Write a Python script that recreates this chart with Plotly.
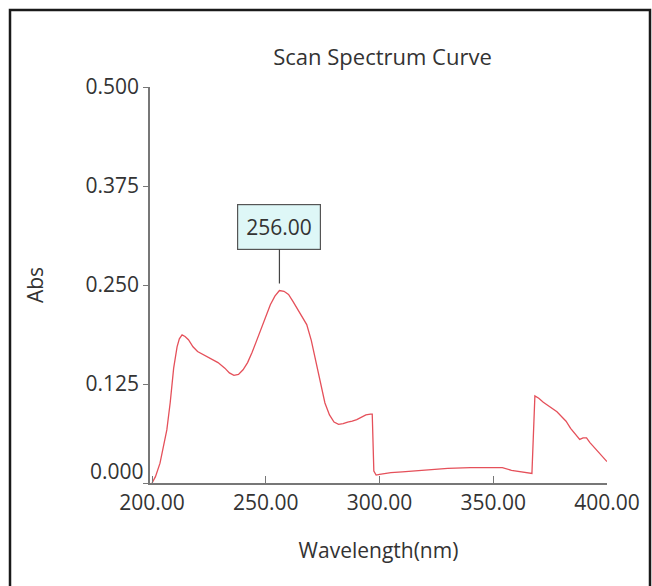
import plotly.graph_objects as go

# Data
wavelength = [200, 201.5, 203.5, 205, 206.5, 208, 209.5, 211, 212, 213.2, 214.5, 216, 218, 220,
              223, 226, 229, 232, 234, 236, 238, 240, 242, 244, 246, 248, 250, 252, 254, 256,
              258, 260, 262, 264, 266, 268, 270, 272, 274, 276, 278, 280, 282, 284, 286, 288,
              290, 292, 294, 296, 296.8, 297.5, 298.5, 300, 305, 310, 320, 330, 340, 350, 354,
              358, 362, 366, 367, 368.3, 370, 372, 374, 376, 378, 380, 382, 384, 386, 388,
              389.5, 391, 392.5, 394, 396, 398, 400]
absorbance = [0.000, 0.008, 0.025, 0.045, 0.067, 0.102, 0.145, 0.172, 0.182, 0.187, 0.185, 0.181,
              0.172, 0.166, 0.161, 0.157, 0.152, 0.145, 0.139, 0.136, 0.137, 0.143, 0.152, 0.165,
              0.180, 0.196, 0.210, 0.225, 0.236, 0.243, 0.242, 0.238, 0.229, 0.219, 0.210, 0.200,
              0.180, 0.153, 0.128, 0.101, 0.086, 0.077, 0.074, 0.075, 0.077, 0.078, 0.080, 0.083,
              0.086, 0.087, 0.087, 0.015, 0.010, 0.011, 0.013, 0.014, 0.0165, 0.0185, 0.0195,
              0.020, 0.0195, 0.016, 0.014, 0.012, 0.012, 0.110, 0.107, 0.102, 0.098, 0.095,
              0.090, 0.084, 0.078, 0.069, 0.062, 0.055, 0.057, 0.057, 0.051, 0.046, 0.040,
              0.034, 0.027]

x_ticks = [200, 250, 300, 350, 400]
x_tick_text = ["200.00", "250.00", "300.00", "350.00", "400.00"]
y_ticks = [0, 0.125, 0.25, 0.375, 0.5]
y_tick_text = ["0.000", "0.125", "0.250", "0.375", "0.500"]

peak_wl = 256
peak_abs = 0.243
peak_label = "256.00"

FONT = "Open Sans"
FS = 21
TXT = "#333"
W, H = 652, 586
L, R, T, B = 150, 45, 87, 103

fig = go.Figure()
fig.add_trace(go.Scatter(
    x=wavelength, y=absorbance, mode="lines",
    line=dict(color="#e5505a", width=1.3),
    showlegend=False, hoverinfo="x+y",
))

fig.add_annotation(
    x=peak_wl, y=peak_abs, xref="x", yref="y",
    text=peak_label, showarrow=True, arrowhead=0, arrowwidth=1.2,
    arrowcolor="#444", ax=0, ay=-64, standoff=7,
    bgcolor="#def7f7", bordercolor="#555", borderwidth=1.2, borderpad=8,
    font=dict(family=FONT, size=FS, color=TXT),
)

# The lowest y tick label sits slightly above the axis corner in the reference
fig.add_annotation(
    x=0, xref="paper", y=y_ticks[0], yref="y", yshift=12,
    text=y_tick_text[0], showarrow=False, xanchor="right", yanchor="middle",
    xshift=-4, font=dict(family=FONT, size=FS, color=TXT),
)
y_tick_labels_shown = [""] + y_tick_text[1:]

pw = W - L - R
ph = H - T - B
x0 = (10 - L) / pw
x1 = (650 - L) / pw
y1 = (H - B - 10) / ph
y0 = (H - B - 595) / ph
fig.add_shape(type="rect", xref="paper", yref="paper", x0=x0, x1=x1, y0=y0, y1=y1,
              line=dict(color="#1a1a1a", width=2.5), layer="below")

fig.update_layout(
    width=W, height=H,
    margin=dict(l=L, r=R, t=T, b=B),
    paper_bgcolor="white", plot_bgcolor="white",
    font=dict(family=FONT, size=FS, color=TXT),
    title=dict(text="Scan Spectrum Curve", x=(L + pw / 2 + 4) / W, xanchor="center",
               y=1 - 57 / H, yanchor="middle",
               font=dict(family=FONT, size=22, color=TXT)),
)
fig.update_xaxes(
    range=[199.1, 400], tickvals=x_ticks, ticktext=x_tick_text,
    showgrid=False, zeroline=False, showline=True, linecolor="#777", linewidth=1.5,
    ticks="inside", ticklen=7, tickcolor="#777", tickwidth=1.3,
    tickfont=dict(family=FONT, size=FS, color=TXT),
    title=dict(text="Wavelength(nm)", standoff=28, font=dict(family=FONT, size=FS, color=TXT)),
)
fig.update_yaxes(
    range=[0, 0.5], tickvals=y_ticks, ticktext=y_tick_labels_shown,
    showgrid=False, zeroline=False, showline=True, linecolor="#777", linewidth=1.5,
    ticks="outside", ticklen=5, tickcolor="#777", tickwidth=1.3,
    tickfont=dict(family=FONT, size=FS, color=TXT),
    title=dict(text="Abs", standoff=36, font=dict(family=FONT, size=FS, color=TXT)),
)

fig.write_html("out.html", config={"displayModeBar": False},
               post_script="document.body.style.margin='0';")
